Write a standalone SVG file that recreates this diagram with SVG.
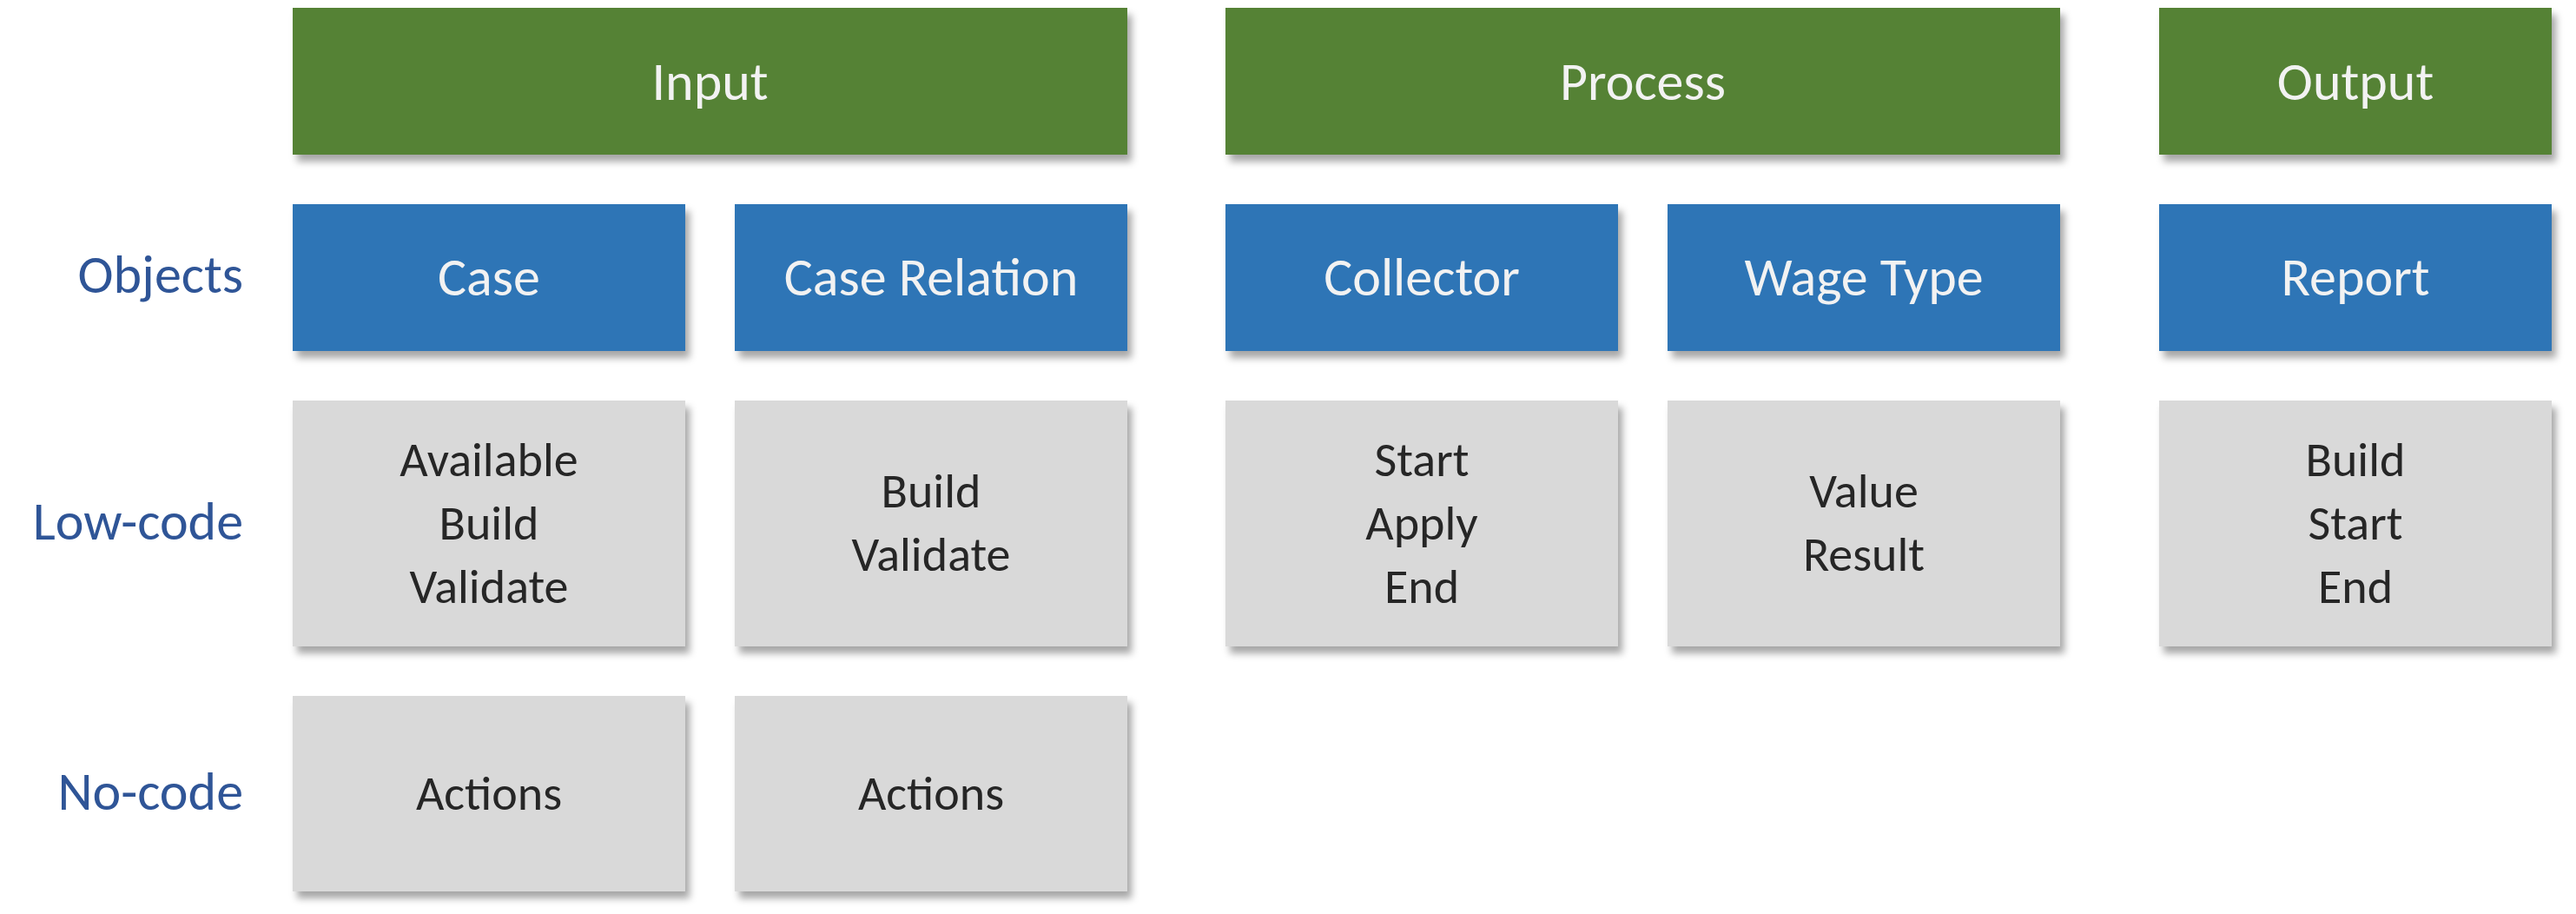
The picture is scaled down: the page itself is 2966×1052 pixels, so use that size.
<svg xmlns="http://www.w3.org/2000/svg" width="2966" height="1052" viewBox="0 0 2966 1052">
<defs>
<filter id="sh" x="-5%" y="-10%" width="115%" height="130%">
<feDropShadow dx="5" dy="8" stdDeviation="4" flood-color="#000" flood-opacity="0.35"/>
</filter>
<style>
text{font-family:Carlito,"Open Sans","Liberation Sans",sans-serif;text-anchor:middle}
.g{fill:#548235}
.b{fill:#2E75B6}
.y{fill:#D9D9D9}
.w{fill:#F2F2F2;font-size:62px}
.d{fill:#262626;font-size:56px}
.l{fill:#2F5597;font-size:62px;text-anchor:end}
</style>
</defs>
<rect width="2966" height="1052" fill="#fff"/>
<g id="labels">
<text class="l" x="280" y="337">Objects</text>
<text class="l" x="280" y="621">Low-code</text>
<text class="l" x="280" y="932">No-code</text>
</g>
<g id="input"><rect class="g" x="337" y="9" width="961" height="169" filter="url(#sh)"/><text class="w" x="817.5" y="115">Input</text></g>
<g id="process"><rect class="g" x="1411" y="9" width="961" height="169" filter="url(#sh)"/><text class="w" x="1891.5" y="115">Process</text></g>
<g id="output"><rect class="g" x="2486" y="9" width="452" height="169" filter="url(#sh)"/><text class="w" x="2712" y="115">Output</text></g>
<g id="case"><rect class="b" x="337" y="235" width="452" height="169" filter="url(#sh)"/><text class="w" x="563" y="340">Case</text></g>
<g id="caserelation"><rect class="b" x="846" y="235" width="452" height="169" filter="url(#sh)"/><text class="w" x="1072" y="340">Case Relation</text></g>
<g id="collector"><rect class="b" x="1411" y="235" width="452" height="169" filter="url(#sh)"/><text class="w" x="1637" y="340">Collector</text></g>
<g id="wagetype"><rect class="b" x="1920" y="235" width="452" height="169" filter="url(#sh)"/><text class="w" x="2146" y="340">Wage Type</text></g>
<g id="report"><rect class="b" x="2486" y="235" width="452" height="169" filter="url(#sh)"/><text class="w" x="2712" y="340">Report</text></g>
<g id="case-low"><rect class="y" x="337" y="461" width="452" height="283" filter="url(#sh)"/><text class="d" x="563" y="548">Available</text><text class="d" x="563" y="621">Build</text><text class="d" x="563" y="694">Validate</text></g>
<g id="caserelation-low"><rect class="y" x="846" y="461" width="452" height="283" filter="url(#sh)"/><text class="d" x="1072" y="584">Build</text><text class="d" x="1072" y="657">Validate</text></g>
<g id="collector-low"><rect class="y" x="1411" y="461" width="452" height="283" filter="url(#sh)"/><text class="d" x="1637" y="548">Start</text><text class="d" x="1637" y="621">Apply</text><text class="d" x="1637" y="694">End</text></g>
<g id="wagetype-low"><rect class="y" x="1920" y="461" width="452" height="283" filter="url(#sh)"/><text class="d" x="2146" y="584">Value</text><text class="d" x="2146" y="657">Result</text></g>
<g id="report-low"><rect class="y" x="2486" y="461" width="452" height="283" filter="url(#sh)"/><text class="d" x="2712" y="548">Build</text><text class="d" x="2712" y="621">Start</text><text class="d" x="2712" y="694">End</text></g>
<g id="case-no"><rect class="y" x="337" y="801" width="452" height="225" filter="url(#sh)"/><text class="d" x="563" y="932">Actions</text></g>
<g id="caserelation-no"><rect class="y" x="846" y="801" width="452" height="225" filter="url(#sh)"/><text class="d" x="1072" y="932">Actions</text></g>
<g id="connectors"></g>
</svg>
